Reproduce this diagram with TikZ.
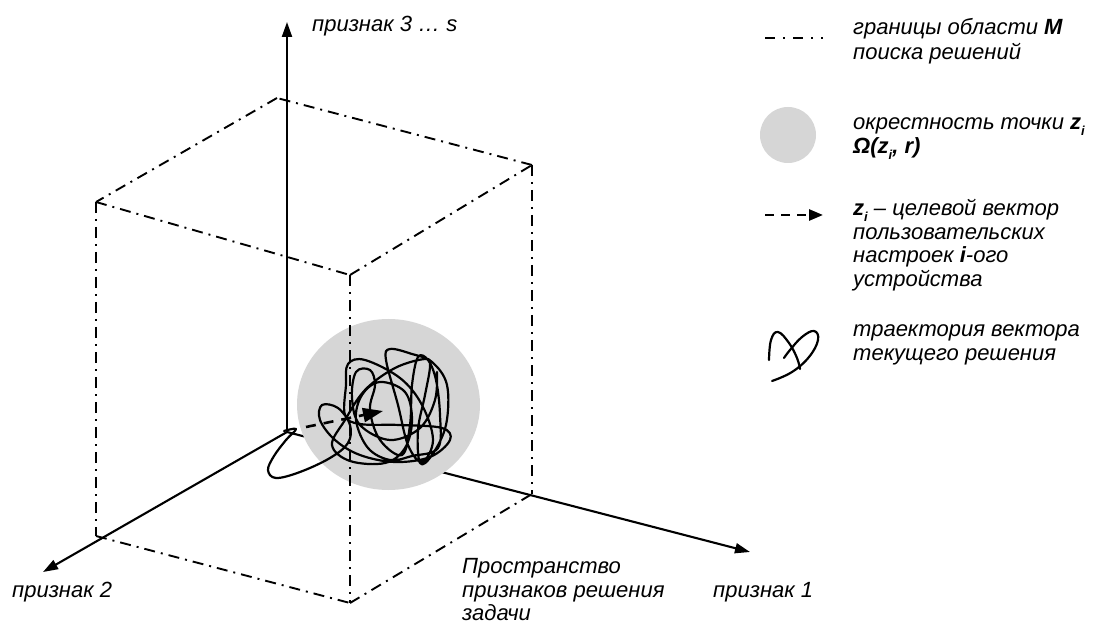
\documentclass[tikz,border=0pt]{standalone}
\usepackage{fontspec}
\setmainfont{Liberation Sans}
\usetikzlibrary{arrows.meta}
\definecolor{sphgray}{RGB}{214,214,214}
\newcommand\subidx{\raisebox{-0.5ex}{\fontsize{13}{13}\selectfont\bfseries i}}
\tikzset{
  boxedge/.style={line width=1.9pt, dash pattern=on 11pt off 6pt on 2pt off 6pt},
  axisline/.style={line width=2.1pt, -{Triangle[length=15pt,width=10pt]}},
  zvec/.style={line width=2.6pt, dash pattern=on 10pt off 8pt, -{Triangle[length=20pt,width=14pt]}},
  traj/.style={line width=2.2pt, line cap=round, line join=round},
  lbl/.style={font=\fontsize{22}{24}\selectfont\itshape, inner sep=0pt, anchor=base west},
  sph/.style={fill=sphgray, draw=none}
}
\begin{document}
\begin{tikzpicture}[x=1pt,y=-1pt]
\fill[white] (0,0) rectangle (1104,631);
\useasboundingbox (0,0) rectangle (1104,631);
% box vertices
\coordinate (TB) at (277,98);
\coordinate (TL) at (96,202);
\coordinate (TF) at (350,275);
\coordinate (TR) at (532,165);
\coordinate (BL) at (96,536);
\coordinate (BF) at (350,603);
\coordinate (BR) at (532,494);
% axes
\coordinate (O) at (287,432);
\coordinate (A1) at (750,552);
\coordinate (A2) at (43,572);
\coordinate (A3) at (287,22);
\coordinate (ZT) at (383,411);
\coordinate (ZS) at (306,427);
% axis 1 behind sphere
\draw[axisline] (O) -- (A1);
% sphere
\fill[sph] (388.5,404.5) ellipse [x radius=91.5, y radius=85.5];
% box
\draw[boxedge] (TB) -- (TL);
\draw[boxedge] (TL) -- (TF);
\draw[boxedge] (TF) -- (TR);
\draw[boxedge] (TR) -- (TB);
\draw[boxedge] (TL) -- (BL);
\draw[boxedge] (TF) -- (BF);
\draw[boxedge] (TR) -- (BR);
\draw[boxedge] (BL) -- (BF);
\draw[boxedge] (BF) -- (BR);
% axes 2, 3
\draw[axisline] (O) -- (A2);
\draw[axisline] (O) -- (A3);
% trajectory
\draw[traj] plot[smooth, tension=0.6] coordinates {
(284,431) (296,429) (286,440) (274,456) (268,470) (276,478) (300,472) (330,458)
(348,443) (350,425) (338,408) (322,405) (320,420) (335,440) (360,455) (395,462)
(430,457) (450,440) (442,428) (400,425) (360,424) (345,415) (346,385) (348,364)
(365,360) (400,378) (422,405) (433,440) (422,462) (408,445) (398,405) (386,360)
(390,349) (412,354) (432,362) (447,385) (446,425) (432,455) (420,463) (418,430)
(425,395) (430,366) (425,359) (395,368) (365,390) (345,420) (332,445) (350,461)
(385,463) (405,448) (412,420) (405,392) (380,382) (362,395) (356,420) (368,448)
(390,460) (412,456) (438,448) (440,415) (436,380) (428,360) (418,357) (412,385)
(410,425) (402,455) (380,440) (370,410) (375,385) (370,370) (356,372) (352,398)
(360,425) (390,440) (420,428) (435,400) (437,372)};
% target vector
\draw[zvec] (ZS) -- (ZT);
% axis labels
\node[lbl] (l3) at (312,32) {признак 3 … s};
\node[lbl] (l2) at (12,597) {признак 2};
\node[lbl] (l1) at (713,597) {признак 1};
\node[lbl] (sp1) at (462,573) {Пространство};
\node[lbl] (sp2) at (462,597) {признаков решения};
\node[lbl] (sp3) at (462,620) {задачи};
% legend
\coordinate (LD1) at (765,38);
\coordinate (LD2) at (823,38);
\draw[line width=1.9pt, dash pattern=on 10pt off 8pt on 2pt off 8pt on 10pt off 8pt on 2pt off 8pt on 2pt off 8pt] (LD1) -- (LD2);
\fill[sph] (788,135) circle [radius=28];
\coordinate (LZ1) at (765,215);
\coordinate (LZ2) at (823,215);
\draw[line width=2.6pt, dash pattern=on 9pt off 7pt, -{Triangle[length=14pt,width=11pt]}] (LZ1) -- (LZ2);
\draw[traj] plot[smooth, tension=0.7] coordinates {(769,360) (771,340) (778,332) (789,343) (797,358) (800,369)};
\draw[traj] plot[smooth, tension=0.7] coordinates {(772,381) (792,372) (809,357) (818,340) (814,331) (802,337) (790,350) (784,358)};
\node[lbl] (g1) at (853,35) {границы области \textbf{M}};
\node[lbl] (g2) at (853,60) {поиска решений};
\node[lbl] (g3) at (853,130) {окрестность точки \textbf{z}\subidx};
\node[lbl] (g4) at (853,154) {\textbf{Ω(z\subidx, r)}};
\node[lbl] (g5) at (853,216) {\textbf{z}\subidx\ – целевой вектор};
\node[lbl] (g6) at (853,240) {пользовательских};
\node[lbl] (g7) at (853,263) {настроек \textbf{i}-ого};
\node[lbl] (g8) at (853,287) {устройства};
\node[lbl] (g9) at (853,337) {траектория вектора};
\node[lbl] (g10) at (853,360) {текущего решения};
\end{tikzpicture}
\end{document}
